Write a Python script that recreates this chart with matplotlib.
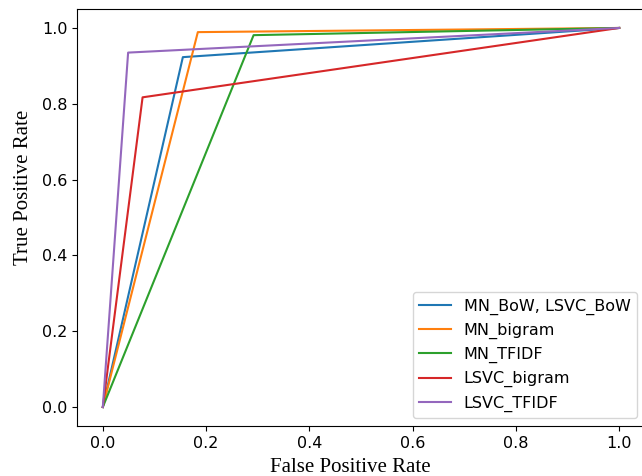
import matplotlib
matplotlib.use("Agg")
import matplotlib.pyplot as plt

# ROC points (fpr, tpr) at the single threshold, plus (0,0) and (1,1)
labels = ["MN_BoW, LSVC_BoW", "MN_bigram", "MN_TFIDF", "LSVC_bigram", "LSVC_TFIDF"]
fpr_mid = [0.155, 0.184, 0.292, 0.077, 0.049]
tpr_mid = [0.923, 0.989, 0.981, 0.817, 0.935]
colors = ["tab:blue", "tab:orange", "tab:green", "tab:red", "tab:purple"]

fig = plt.figure(figsize=(6.42, 4.76), dpi=100)
ax = fig.add_axes([77 / 642, 50 / 476, 568 / 642, 417 / 476])

for lab, fx, ty, c in zip(labels, fpr_mid, tpr_mid, colors):
    ax.plot([0.0, fx, 1.0], [0.0, ty, 1.0], color=c, label=lab, lw=1.5)

ax.set_xlim(-0.05, 1.05)
ax.set_ylim(-0.05, 1.05)
ax.tick_params(labelsize=11.5)
ax.set_xlabel("False Positive Rate", family="Liberation Serif", fontsize=15)
ax.set_ylabel("True Positive Rate", family="Liberation Serif", fontsize=15)
# labels sit a bit off-centre in the original picture
ax.xaxis.set_label_coords(0.482, -0.077)
ax.yaxis.set_label_coords(-0.077, 0.572)
ax.legend(loc="lower right", fontsize=11.5)

fig.savefig("out.png", dpi=100)
